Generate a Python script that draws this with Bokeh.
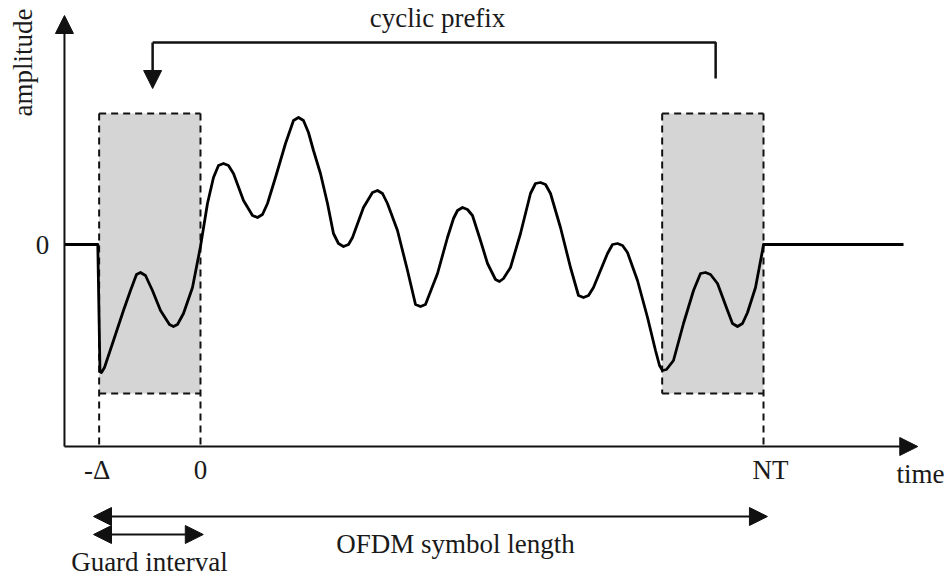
from bokeh.plotting import figure
from bokeh.models import Range1d, Arrow, NormalHead, Label
from bokeh.embed import file_html
from bokeh.resources import INLINE

# ---------------- data (time in units where NT = 100, amplitude arbitrary) -------------
DELTA = 18.0
NT = 100.0

wave = [(-24.16, 0.0), (-18.24, 0.0), (-17.85, -1.27), (-17.58, -1.28), (-17.05, -1.23),
        (-15.45, -0.96), (-13.68, -0.66), (-12.43, -0.46), (-11.37, -0.30), (-10.66, -0.28),
        (-9.77, -0.31), (-8.53, -0.46), (-7.10, -0.66), (-5.51, -0.80), (-4.80, -0.82),
        (-4.09, -0.80), (-3.02, -0.69), (-1.42, -0.43), (0.0, -0.02), (1.24, 0.41),
        (2.31, 0.67), (3.20, 0.79), (4.09, 0.81), (4.97, 0.79), (5.86, 0.71), (7.64, 0.44),
        (9.24, 0.29), (10.12, 0.27), (11.01, 0.30), (11.90, 0.41), (13.32, 0.67),
        (14.21, 0.84), (15.10, 1.01), (16.52, 1.24), (17.41, 1.27), (18.29, 1.24),
        (19.18, 1.12), (20.07, 0.94), (21.31, 0.71), (22.56, 0.41), (23.62, 0.11),
        (24.51, 0.01), (25.40, -0.02), (26.29, 0.00), (27.00, 0.07), (28.95, 0.37),
        (30.55, 0.52), (31.44, 0.54), (32.33, 0.51), (33.21, 0.41), (34.99, 0.14),
        (36.77, -0.26), (38.19, -0.60), (39.08, -0.62), (39.96, -0.60), (42.10, -0.29),
        (43.87, 0.07), (44.94, 0.26), (45.65, 0.34), (46.54, 0.37), (47.42, 0.35),
        (48.31, 0.29), (49.73, 0.04), (50.98, -0.19), (52.40, -0.35), (53.11, -0.37),
        (53.82, -0.34), (55.06, -0.23), (56.84, 0.11), (58.61, 0.51), (59.50, 0.61),
        (60.39, 0.62), (61.28, 0.60), (62.17, 0.51), (63.94, 0.17), (65.72, -0.23),
        (67.14, -0.51), (68.03, -0.53), (68.92, -0.51), (69.80, -0.43), (72.29, -0.09),
        (73.18, 0.00), (74.07, 0.01), (74.96, -0.01), (75.84, -0.08), (77.62, -0.36),
        (79.40, -0.73), (80.82, -1.06), (81.53, -1.21), (82.06, -1.26), (82.77, -1.25),
        (84.01, -1.16), (85.79, -0.79), (87.57, -0.46), (88.81, -0.29), (89.70, -0.28),
        (90.59, -0.30), (91.83, -0.39), (93.61, -0.66), (94.49, -0.79), (95.38, -0.82),
        (96.27, -0.79), (97.16, -0.68), (98.58, -0.43), (99.82, -0.06), (100.0, 0.0),
        (124.87, 0.0)]
t_wave = [w[0] for w in wave]
a_wave = [w[1] for w in wave]

tick_positions = [-DELTA, 0.0, NT]
tick_labels = ["-\u0394", "0", "NT"]

# ---------------- layout constants (data units) ----------------
T_AXIS, A_AXIS = -24.16, -2.02    # origin of drawn axes
T_TIP, A_TIP = 127.4, 2.29        # arrow tips of the axes
BOX_TOP, BOX_BOT = 1.31, -1.49
BRACKET_Y = 2.02
FONT = "Liberation Serif"
FS = "27px"
INK = "#111111"

p = figure(width=947, height=579, output_backend="svg", toolbar_location=None,
           x_range=Range1d(-35.52, 132.68), y_range=Range1d(-3.35, 2.44),
           min_border=0, outline_line_color=None, background_fill_color="white",
           border_fill_color="white")
p.xaxis.visible = False
p.yaxis.visible = False
p.xgrid.visible = False
p.ygrid.visible = False

# shaded guard interval boxes
p.quad(left=[-DELTA, NT - DELTA], right=[0.0, NT], top=[BOX_TOP, BOX_TOP],
       bottom=[BOX_BOT, BOX_BOT], fill_color="#d5d5d5", line_color=None)
# dashed outlines
dash = dict(line_color="#111111", line_width=2, line_dash="7 5")
p.multi_line(xs=[[-DELTA, 0.0], [-DELTA, 0.0], [NT - DELTA, NT], [NT - DELTA, NT],
                 [NT - DELTA, NT - DELTA]],
             ys=[[BOX_TOP, BOX_TOP], [BOX_BOT, BOX_BOT], [BOX_TOP, BOX_TOP],
                 [BOX_BOT, BOX_BOT], [BOX_TOP, BOX_BOT]], **dash)
p.multi_line(xs=[[-DELTA, -DELTA], [0.0, 0.0], [NT, NT]],
             ys=[[BOX_TOP, A_AXIS], [BOX_TOP, A_AXIS], [BOX_TOP, A_AXIS]], **dash)


def head():
    return NormalHead(size=18, fill_color=INK, line_color=INK, line_width=1)


# axes with arrow heads
p.add_layout(Arrow(end=head(), x_start=T_AXIS, y_start=A_AXIS, x_end=T_AXIS, y_end=A_TIP,
                   line_color=INK, line_width=2))
p.add_layout(Arrow(end=head(), x_start=T_AXIS, y_start=A_AXIS, x_end=T_TIP, y_end=A_AXIS,
                   line_color=INK, line_width=2))

# the OFDM waveform
p.line(t_wave, a_wave, line_color="black", line_width=2.8, line_join="round")

# cyclic prefix bracket
CP_R = NT - DELTA / 2 + 0.5
CP_L = -DELTA / 2 + 0.5
p.line([CP_R, CP_R, CP_L], [1.66, BRACKET_Y, BRACKET_Y], line_color=INK, line_width=2.5)
p.add_layout(Arrow(end=head(), x_start=CP_L, y_start=BRACKET_Y, x_end=CP_L, y_end=1.56,
                   line_color=INK, line_width=2.5))

# length arrows below
def dbl(x0, x1, y):
    p.add_layout(Arrow(start=head(), end=head(), x_start=x0, y_start=y, x_end=x1, y_end=y,
                       line_color=INK, line_width=2))


dbl(-DELTA - 1.0, NT + 0.7, -2.72)
dbl(-DELTA - 1.0, 0.5, -2.90)


# texts
def lab(x, y, text, angle=0.0, xo=0):
    p.add_layout(Label(x=x, y=y, text=text, text_font=FONT, text_font_size=FS,
                       text_color="#1a1a1a", text_align="center", text_baseline="alphabetic",
                       angle=angle, x_offset=xo))


offsets = [-2, 0, 7]
for tp, tl, xo in zip(tick_positions, tick_labels, offsets):
    lab(tp, -2.255, tl, xo=xo)
lab(127.9, -2.295, "time")
lab(-28.06, -0.005, "0")
lab(-31.6, 1.82, "amplitude", angle=1.5708)
lab(42.1, 2.265, "cyclic prefix")
lab(45.3, -2.995, "OFDM symbol length")
lab(-9.06, -3.17, "Guard interval")

open("out.html", "w").write(file_html(p, INLINE))
